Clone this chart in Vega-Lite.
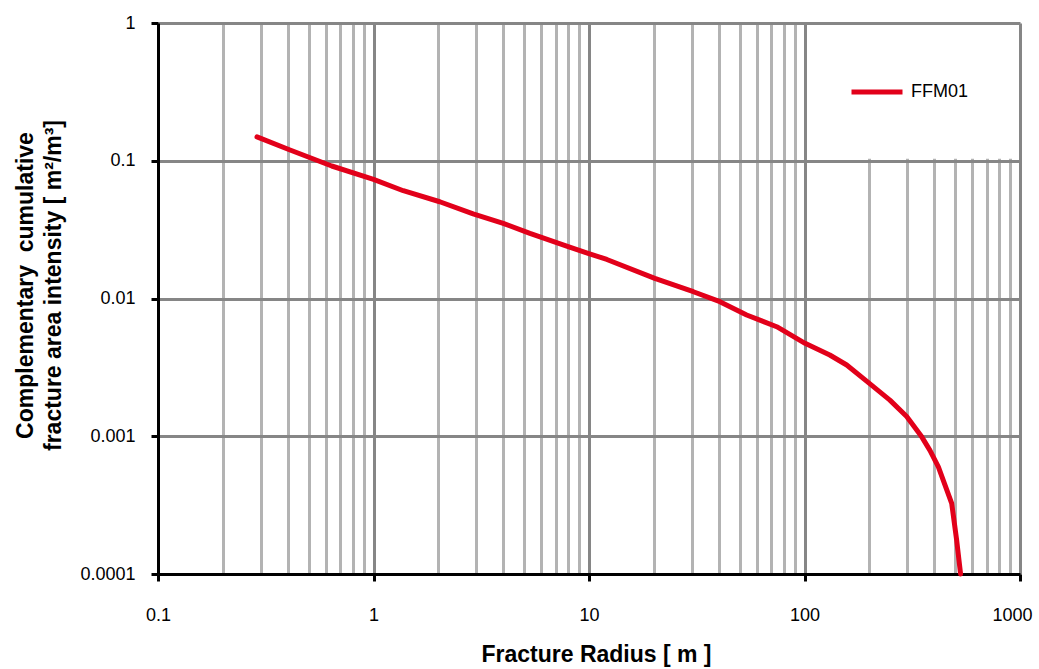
{
  "$schema": "https://vega.github.io/schema/vega-lite/v6.json",
  "width": 862,
  "height": 551,
  "autosize": {"type": "none"},
  "padding": {"left": 158, "top": 23, "right": 19, "bottom": 95},
  "background": "white",
  "config": {
    "view": {"stroke": null},
    "font": "Liberation Sans",
    "axis": {
      "grid": true,
      "domainColor": "black",
      "domainWidth": 3,
      "tickColor": "black",
      "tickWidth": 3,
      "tickSize": 7,
      "gridWidth": 3,
      "labelFont": "Liberation Sans",
      "labelFontSize": 18,
      "labelColor": "black",
      "labelOverlap": false,
      "labelBound": false,
      "labelFlush": false,
      "titleFont": "Liberation Sans",
      "titleFontSize": 23,
      "titleFontWeight": "bold",
      "titleColor": "black"
    }
  },
  "datasets": {
    "ffm01": [
      {"radius": 0.288, "intensity": 0.149, "series": "FFM01"},
      {"radius": 0.41, "intensity": 0.1197, "series": "FFM01"},
      {"radius": 0.64, "intensity": 0.0916, "series": "FFM01"},
      {"radius": 1.0, "intensity": 0.0733, "series": "FFM01"},
      {"radius": 1.375, "intensity": 0.0606, "series": "FFM01"},
      {"radius": 2.03, "intensity": 0.0504, "series": "FFM01"},
      {"radius": 2.9, "intensity": 0.0411, "series": "FFM01"},
      {"radius": 4.0, "intensity": 0.0351, "series": "FFM01"},
      {"radius": 5.32, "intensity": 0.0297, "series": "FFM01"},
      {"radius": 7.88, "intensity": 0.024, "series": "FFM01"},
      {"radius": 9.9, "intensity": 0.0213, "series": "FFM01"},
      {"radius": 12.1, "intensity": 0.0192, "series": "FFM01"},
      {"radius": 20.2, "intensity": 0.014, "series": "FFM01"},
      {"radius": 30.5, "intensity": 0.0112, "series": "FFM01"},
      {"radius": 40.5, "intensity": 0.00948, "series": "FFM01"},
      {"radius": 53.9, "intensity": 0.00759, "series": "FFM01"},
      {"radius": 74.3, "intensity": 0.00624, "series": "FFM01"},
      {"radius": 100.6, "intensity": 0.00473, "series": "FFM01"},
      {"radius": 131, "intensity": 0.00389, "series": "FFM01"},
      {"radius": 157, "intensity": 0.00329, "series": "FFM01"},
      {"radius": 200, "intensity": 0.00242, "series": "FFM01"},
      {"radius": 249, "intensity": 0.00183, "series": "FFM01"},
      {"radius": 298, "intensity": 0.00139, "series": "FFM01"},
      {"radius": 350, "intensity": 0.00099, "series": "FFM01"},
      {"radius": 382, "intensity": 0.00079, "series": "FFM01"},
      {"radius": 418, "intensity": 0.0006, "series": "FFM01"},
      {"radius": 482, "intensity": 0.000326, "series": "FFM01"},
      {"radius": 508, "intensity": 0.000177, "series": "FFM01"},
      {"radius": 530, "intensity": 0.0001, "series": "FFM01"}
    ]
  },
  "layer": [
    {
      "description": "White legend panel over the upper-right grid",
      "data": {"values": [{}]},
      "mark": {"type": "rect", "fill": "white", "x2Offset": -2, "yOffset": 2, "y2Offset": -2},
      "encoding": {
        "x": {"datum": 150, "type": "quantitative", "scale": {"type": "log", "domain": [0.1, 1000], "nice": false}},
        "x2": {"datum": 1000},
        "y": {"datum": 1, "type": "quantitative", "scale": {"type": "log", "domain": [0.0001, 1], "nice": false}},
        "y2": {"datum": 0.1}
      }
    },
    {
      "data": {"name": "ffm01"},
      "mark": {"type": "line", "strokeWidth": 5, "strokeCap": "round", "strokeJoin": "round"},
      "encoding": {
        "x": {
          "field": "radius",
          "type": "quantitative",
          "scale": {"type": "log", "domain": [0.1, 1000], "nice": false},
          "axis": {
            "grid": true,
            "title": "Fracture Radius [ m ]",
            "values": [0.1, 0.2, 0.3, 0.4, 0.5, 0.6, 0.7, 0.8, 0.9, 1, 2, 3, 4, 5, 6, 7, 8, 9, 10, 20, 30, 40, 50, 60, 70, 80, 90, 100, 200, 300, 400, 500, 600, 700, 800, 900, 1000],
            "format": "~g",
            "labelExpr": "indexof([0.1, 1, 10, 100, 1000], datum.value) >= 0 ? datum.label : ''",
            "labelPadding": 25,
            "labelOffset": {"condition": {"test": "datum.value == 1000", "value": -8}, "value": 0},
            "gridColor": {"condition": {"test": "indexof([0.1, 1, 10, 100, 1000], datum.value) >= 0", "value": "#868686"}, "value": "#b3b3b3"},
            "tickOpacity": {"condition": {"test": "indexof([0.1, 1, 10, 100, 1000], datum.value) >= 0", "value": 1}, "value": 0},
            "titleBaseline": "alphabetic",
            "titleX": 438,
            "titleY": 87
          }
        },
        "y": {
          "field": "intensity",
          "type": "quantitative",
          "scale": {"type": "log", "domain": [0.0001, 1], "nice": false},
          "axis": {
            "grid": true,
            "title": ["Complementary\u00a0 cumulative", "fracture area intensity [ m²/m³]"],
            "values": [0.0001, 0.001, 0.01, 0.1, 1],
            "format": "~g",
            "labelPadding": 16,
            "gridColor": "#868686",
            "titleAngle": -90,
            "titleAlign": "center",
            "titleBaseline": "alphabetic",
            "titleLineHeight": 28,
            "titleX": -126,
            "titleY": 262
          }
        },
        "color": {
          "field": "series",
          "type": "nominal",
          "scale": {"range": ["#e2001a"]},
          "legend": {
            "title": null,
            "orient": "none",
            "legendX": 691,
            "legendY": 41,
            "padding": 0,
            "symbolType": "stroke",
            "symbolSize": 2601,
            "symbolStrokeWidth": 5,
            "labelFont": "Liberation Sans",
            "labelFontSize": 18,
            "labelColor": "black",
            "labelOffset": 6
          }
        }
      }
    }
  ]
}
